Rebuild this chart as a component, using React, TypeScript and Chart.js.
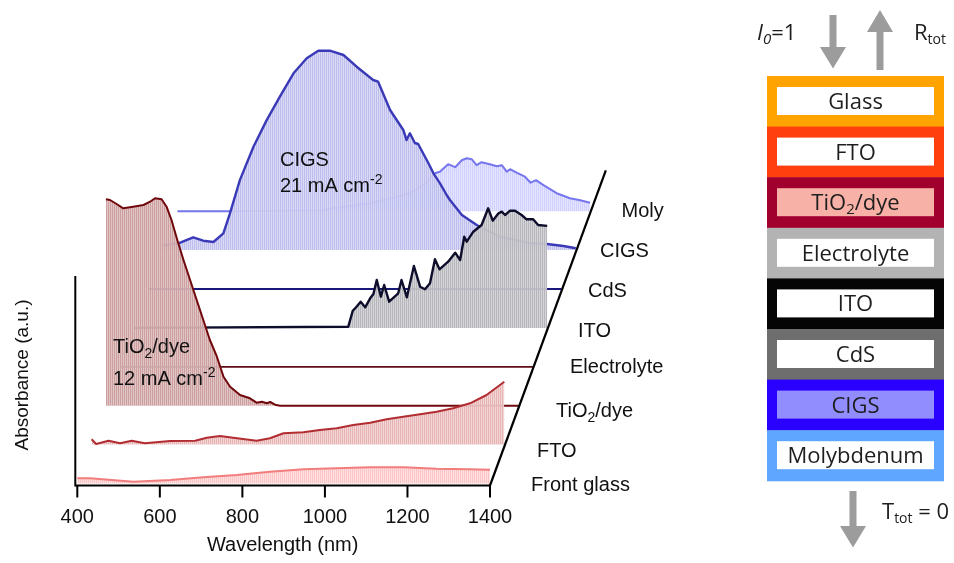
import React, { useEffect, useRef } from 'react';
import { Chart, registerables } from 'chart.js';

Chart.register(...registerables);

// ---------- data ----------
const xTicks = [400, 600, 800, 1000, 1200, 1400];
const layerNames = ['Front glass', 'FTO', 'TiO2/dye', 'Electrolyte', 'ITO', 'CdS', 'CIGS', 'Moly'];

const frontGlassNm = [400, 431, 536, 625, 705, 786, 867, 948, 1028, 1109, 1190, 1271, 1351, 1400];
const frontGlassAbs = [0.052, 0.052, 0.018, 0.035, 0.062, 0.085, 0.118, 0.142, 0.152, 0.162, 0.162, 0.148, 0.142, 0.138];

const ftoNm = [400, 411, 441, 469, 497, 529, 590, 651, 679, 711, 743, 800, 832, 865, 913, 953, 994, 1034, 1075, 1115, 1155, 1196, 1236, 1276, 1317, 1357, 1400];
const ftoAbs = [0.053, 0.006, 0.039, 0.013, 0.039, 0.013, 0.036, 0.039, 0.069, 0.086, 0.069, 0.039, 0.063, 0.113, 0.123, 0.146, 0.163, 0.196, 0.219, 0.253, 0.279, 0.303, 0.329, 0.363, 0.413, 0.496, 0.629];

const tio2Nm = [400, 410, 426, 442, 466, 491, 507, 519, 535, 547, 559, 573, 588, 604, 620, 636, 652, 669, 685, 701, 725, 749, 765, 778, 790, 798, 810, 822, 1400];
const tio2Abs = [2.064, 2.057, 2.017, 1.974, 1.99, 2.007, 2.04, 2.074, 2.064, 1.99, 1.857, 1.657, 1.457, 1.257, 1.057, 0.857, 0.657, 0.49, 0.29, 0.19, 0.107, 0.074, 0.03, 0.04, 0.024, 0.037, 0.01, 0, 0];

const electrolyteNm = [400, 1400];
const electrolyteAbs = [0, 0];

const itoNm = [400, 918, 929, 938, 948, 959, 971, 979, 987, 997, 1005, 1017, 1039, 1047, 1060, 1077, 1092, 1104, 1116, 1128, 1139, 1160, 1177, 1189, 1199, 1205, 1221, 1241, 1257, 1268, 1282, 1290, 1298, 1310, 1322, 1338, 1350, 1366, 1378, 1400];
const itoAbs = [0, 0.012, 0.172, 0.212, 0.262, 0.206, 0.296, 0.339, 0.479, 0.312, 0.429, 0.262, 0.346, 0.479, 0.306, 0.619, 0.412, 0.386, 0.446, 0.686, 0.586, 0.662, 0.752, 0.679, 0.912, 0.862, 0.962, 1.029, 1.196, 1.072, 1.146, 1.162, 1.129, 1.172, 1.172, 1.129, 1.086, 1.086, 1.029, 1.02];

const cdsNm = [400, 1400];
const cdsAbs = [0, 0];

const cigsNm = [400, 437, 473, 497, 522, 546, 562, 586, 619, 651, 683, 716, 748, 776, 804, 837, 869, 909, 921, 950, 982, 990, 998, 1010, 1018, 1043, 1055, 1071, 1087, 1095, 1124, 1160, 1216, 1289, 1330, 1370, 1400];
const cigsAbs = [0.05, 0.068, 0.128, 0.094, 0.081, 0.168, 0.368, 0.7, 1.034, 1.3, 1.534, 1.768, 1.918, 1.994, 1.994, 1.951, 1.834, 1.701, 1.684, 1.401, 1.201, 1.101, 1.168, 1.071, 1.061, 0.868, 0.768, 0.668, 0.551, 0.501, 0.351, 0.251, 0.134, 0.07, 0.061, 0.041, 0.018];

const molyNm = [400, 527, 746, 867, 964, 1000, 1024, 1036, 1056, 1073, 1089, 1101, 1113, 1125, 1137, 1157, 1174, 1186, 1198, 1206, 1222, 1242, 1256, 1269, 1287, 1319, 1351, 1376, 1400];
const molyAbs = [0, 0, 0.01, 0.08, 0.18, 0.27, 0.38, 0.395, 0.47, 0.44, 0.51, 0.53, 0.52, 0.46, 0.49, 0.47, 0.45, 0.46, 0.395, 0.42, 0.385, 0.345, 0.285, 0.31, 0.26, 0.18, 0.13, 0.11, 0.085];

const stackNames = ['Glass', 'FTO', 'TiO2/dye', 'Electrolyte', 'ITO', 'CdS', 'CIGS', 'Molybdenum'];

// ---------- layout / style ----------
const LAYER_SHIFT_NM = 34.65;
const LAYER_SHIFT_ABS = 0.389;
const AXIS_Y = -0.02;
const Y_AXIS_TOP = 2.075;
const X_MIN = 212.7;
const X_MAX = 1957.3;
const Y_MIN = -0.795;
const Y_MAX = 4.835;
const CW = 720;
const CH = 563;
const FONT = '"Liberation Sans", Arial, Helvetica, sans-serif';
const PANEL_FONT = '"Open Sans", "Liberation Sans", sans-serif';

const layerSeries = [
  [frontGlassNm, frontGlassAbs],
  [ftoNm, ftoAbs],
  [tio2Nm, tio2Abs],
  [electrolyteNm, electrolyteAbs],
  [itoNm, itoAbs],
  [cdsNm, cdsAbs],
  [cigsNm, cigsAbs],
  [molyNm, molyAbs],
];

const layerStyles = [
  { line: 'rgb(242,125,125)', width: 2, fill: ['rgb(252,196,196)', 'rgba(255,222,222,0.9)'] },
  { line: 'rgb(178,45,50)', width: 2, fill: ['rgb(230,180,180)', 'rgba(242,210,210,0.9)'] },
  { line: 'rgb(112,8,12)', width: 2, fill: ['rgb(204,160,160)', 'rgba(222,190,190,0.9)'] },
  { line: 'rgb(95,12,22)', width: 1.8, fill: null },
  { line: 'rgb(14,14,44)', width: 2.4, fill: ['rgb(182,182,188)', 'rgba(208,208,212,0.9)'] },
  { line: 'rgb(24,24,122)', width: 1.8, fill: null },
  { line: 'rgb(58,58,184)', width: 2.4, fill: ['rgb(190,190,236)', 'rgba(214,214,246,0.9)'] },
  { line: 'rgb(118,118,238)', width: 2, fill: ['rgb(208,208,255)', 'rgba(226,226,255,0.9)'] },
];

// pixel positions of the right-hand layer names: [x, baseline]
const labelPos = [
  [531, 490.5],
  [537, 456.5],
  [556, 416.5],
  [570, 372.7],
  [578, 336.5],
  [588, 297],
  [600, 257],
  [621.5, 217],
];

const stackColors = [
  ['#ffa300', '#ffffff'],
  ['#ff400e', '#ffffff'],
  ['#a1002e', '#f7b1a6'],
  ['#b3b3b3', '#ffffff'],
  ['#050505', '#ffffff'],
  ['#6e6e6e', '#ffffff'],
  ['#2a00ff', '#918dff'],
  ['#5ea6ff', '#ffffff'],
];

type Part = [string, number];

function drawRich(ctx: CanvasRenderingContext2D, parts: Part[], x: number, y: number, size: number) {
  let cx = x;
  ctx.textAlign = 'left';
  ctx.textBaseline = 'alphabetic';
  for (const [t, m] of parts) {
    const s = m ? size * 0.7 : size;
    ctx.font = `${s}px ${FONT}`;
    const dy = m === 1 ? size * 0.25 : m === 2 ? -size * 0.4 : 0;
    ctx.fillText(t, cx, y + dy);
    cx += ctx.measureText(t).width;
  }
}

function labelParts(name: string): Part[] {
  if (name === 'TiO2/dye') return [['TiO', 0], ['2', 1], ['/dye', 0]];
  return [[name, 0]];
}

const axesPlugin = {
  id: 'waterfallAxes',
  afterDraw(chart: any) {
    const ctx: CanvasRenderingContext2D = chart.ctx;
    const xs = chart.scales.x;
    const ys = chart.scales.y;
    const y0 = ys.getPixelForValue(AXIS_Y);
    const xL = xs.getPixelForValue(xTicks[0]) - 2;
    const xR = xs.getPixelForValue(xTicks[xTicks.length - 1]);
    ctx.save();
    ctx.strokeStyle = '#000';
    ctx.fillStyle = '#111';
    ctx.lineWidth = 2;
    ctx.lineCap = 'butt';
    ctx.beginPath();
    ctx.moveTo(xL, y0);
    ctx.lineTo(xR + 1, y0);
    ctx.stroke();
    for (const t of xTicks) {
      const px = xs.getPixelForValue(t);
      ctx.beginPath();
      ctx.moveTo(px, y0);
      ctx.lineTo(px, y0 + 12);
      ctx.stroke();
    }
    ctx.font = `20px ${FONT}`;
    ctx.textAlign = 'center';
    ctx.textBaseline = 'alphabetic';
    for (const t of xTicks) {
      ctx.fillText(String(t), xs.getPixelForValue(t), 523);
    }
    ctx.fillText('Wavelength (nm)', (xL + xR) / 2, 551);
    ctx.beginPath();
    ctx.moveTo(xL, ys.getPixelForValue(Y_AXIS_TOP));
    ctx.lineTo(xL, y0 + 1);
    ctx.stroke();
    const last = xTicks[xTicks.length - 1];
    ctx.lineWidth = 2.2;
    ctx.beginPath();
    ctx.moveTo(xs.getPixelForValue(last), y0);
    ctx.lineTo(
      xs.getPixelForValue(last + 8.1 * LAYER_SHIFT_NM),
      ys.getPixelForValue(AXIS_Y + 8.1 * LAYER_SHIFT_ABS)
    );
    ctx.stroke();
    ctx.save();
    ctx.translate(21, 375);
    ctx.rotate(-Math.PI / 2);
    ctx.font = `19px ${FONT}`;
    ctx.textAlign = 'center';
    ctx.fillText('Absorbance (a.u.)', 0, 7);
    ctx.restore();
    layerNames.forEach((n, i) => {
      drawRich(ctx, labelParts(n), labelPos[i][0], labelPos[i][1], 20);
    });
    drawRich(ctx, [['CIGS', 0]], 280, 166, 20);
    drawRich(ctx, [['21 mA cm', 0], ['-2', 2]], 280, 191.7, 20);
    drawRich(ctx, [['TiO', 0], ['2', 1], ['/dye', 0]], 113, 353.3, 20);
    drawRich(ctx, [['12 mA cm', 0], ['-2', 2]], 113, 385, 20);
    ctx.restore();
  },
};

function makeStripe(ctx: CanvasRenderingContext2D, c1: string, c2: string) {
  const cv = document.createElement('canvas');
  cv.width = 2;
  cv.height = 1;
  const c = cv.getContext('2d')!;
  c.fillStyle = c1;
  c.fillRect(0, 0, 1, 1);
  c.fillStyle = c2;
  c.fillRect(1, 0, 1, 1);
  return ctx.createPattern(cv, 'repeat');
}

function Panel() {
  const left = 767;
  const top = 76;
  const w = 177;
  const h = 50.6;
  const cx = left + w / 2;
  const fs = 22;
  return (
    <svg
      width={954}
      height={563}
      style={{ position: 'absolute', left: 0, top: 0, pointerEvents: 'none' }}
    >
      {stackNames.map((n, i) => {
        const y = top + i * h;
        return (
          <g key={n}>
            <rect x={left} y={y} width={w} height={h + 0.5} fill={stackColors[i][0]} />
            <rect x={left + 10} y={y + 11} width={w - 20} height={28} fill={stackColors[i][1]} />
            {n === 'TiO2/dye' ? (
              <text x={cx} y={y + 33} textAnchor="middle" fontFamily={PANEL_FONT} fontSize={fs} fill="#1e1e1e">
                TiO<tspan fontSize={15} dy={4}>2</tspan>
                <tspan dy={-4}>/dye</tspan>
              </text>
            ) : (
              <text x={cx} y={y + 33} textAnchor="middle" fontFamily={PANEL_FONT} fontSize={fs} fill="#1e1e1e">
                {n}
              </text>
            )}
          </g>
        );
      })}
      <rect x={829.5} y={15} width={7} height={34} fill="#9c9c9c" />
      <polygon points="820,47 846,47 833,68.5" fill="#9c9c9c" />
      <polygon points="880,10 867,32 893,32" fill="#9c9c9c" />
      <rect x={876.5} y={31} width={7} height={39} fill="#9c9c9c" />
      <rect x={849.5} y={491} width={7} height={37} fill="#9c9c9c" />
      <polygon points="840,526 866,526 853,547.5" fill="#9c9c9c" />
      <text x={757} y={40} fontFamily={PANEL_FONT} fontSize={22} fill="#1e1e1e">
        <tspan fontStyle="italic">I</tspan>
        <tspan fontStyle="italic" fontSize={15} dy={4}>0</tspan>
        <tspan dy={-4}>=1</tspan>
      </text>
      <text x={914} y={40} fontFamily={PANEL_FONT} fontSize={22} fill="#1e1e1e">
        R<tspan fontSize={14} dy={4}>tot</tspan>
      </text>
      <text x={882} y={519} fontFamily={PANEL_FONT} fontSize={22} fill="#1e1e1e">
        T<tspan fontSize={14} dy={4}>tot</tspan>
        <tspan dy={-4}> = 0</tspan>
      </text>
    </svg>
  );
}

export default function App() {
  const canvasRef = useRef<HTMLCanvasElement | null>(null);

  useEffect(() => {
    const canvas = canvasRef.current;
    if (!canvas) return;
    const ctx = canvas.getContext('2d')!;
    const datasets = layerSeries.map(([nm, ab], k) => {
      const st = layerStyles[k];
      const base = k * LAYER_SHIFT_ABS;
      return {
        label: layerNames[k],
        data: nm.map((w, i) => ({ x: w + k * LAYER_SHIFT_NM, y: ab[i] + base })),
        borderColor: st.line,
        borderWidth: st.width,
        backgroundColor: st.fill ? makeStripe(ctx, st.fill[0], st.fill[1]) : 'transparent',
        fill: st.fill ? { value: base } : false,
        pointRadius: 0,
        tension: 0,
        borderJoinStyle: 'round' as const,
      };
    });
    const chart = new Chart(canvas, {
      type: 'line',
      data: { datasets: datasets as any },
      options: {
        animation: false,
        responsive: false,
        devicePixelRatio: 1,
        events: [],
        layout: { padding: 0 },
        plugins: { legend: { display: false }, tooltip: { enabled: false } },
        scales: {
          x: { type: 'linear', min: X_MIN, max: X_MAX, display: false },
          y: { type: 'linear', min: Y_MIN, max: Y_MAX, display: false },
        },
      },
      plugins: [axesPlugin],
    });
    return () => chart.destroy();
  }, []);

  return (
    <div style={{ position: 'absolute', left: 0, top: 0, width: 954, height: 563, background: '#fff' }}>
      <canvas
        ref={canvasRef}
        width={CW}
        height={CH}
        style={{ position: 'absolute', left: 0, top: 0, width: CW, height: CH }}
      />
      <Panel />
    </div>
  );
}
